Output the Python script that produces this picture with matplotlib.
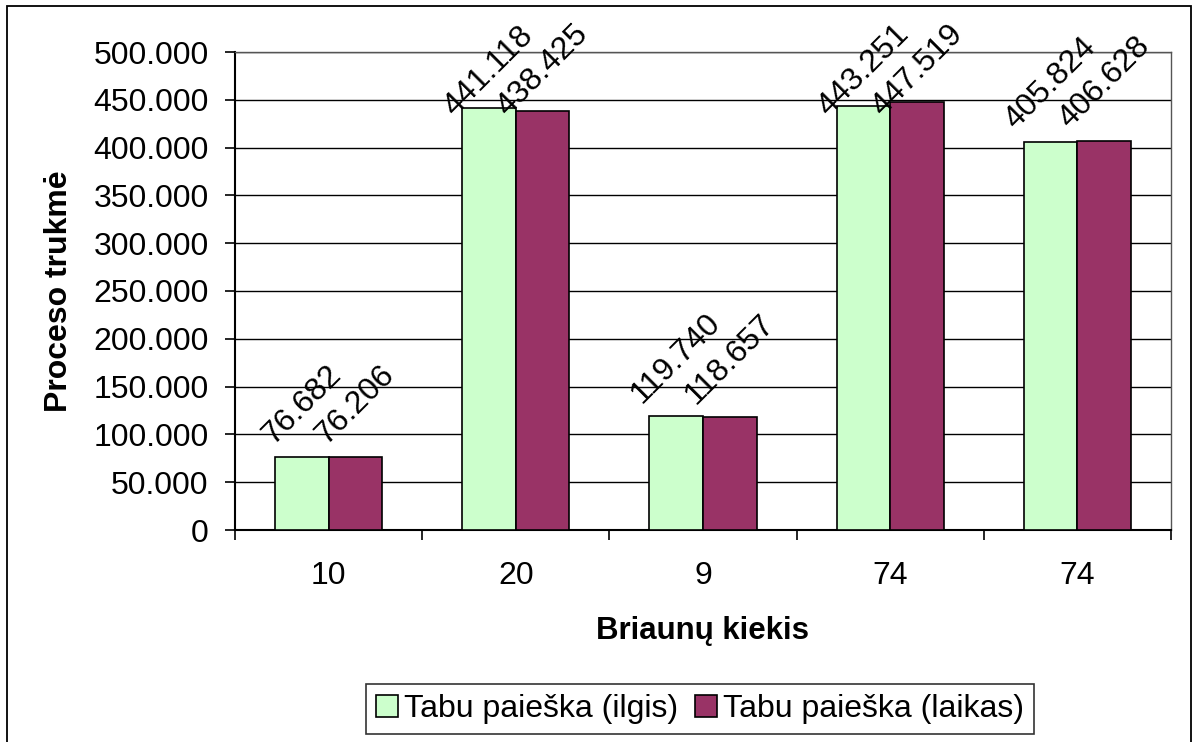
import matplotlib
matplotlib.use("Agg")
import matplotlib.pyplot as plt
import numpy as np
from matplotlib.patches import Rectangle

plt.rcParams['font.family'] = ['Liberation Sans', 'DejaVu Sans']

categories = ['10', '20', '9', '74', '74']
ilgis = [76.682, 441.118, 119.740, 443.251, 405.824]
laikas = [76.206, 438.425, 118.657, 447.519, 406.628]
series_names = ['Tabu paieška (ilgis)', 'Tabu paieška (laikas)']
yticks = [0, 50, 100, 150, 200, 250, 300, 350, 400, 450, 500]
ytick_labels = ['0', '50.000', '100.000', '150.000', '200.000', '250.000',
                '300.000', '350.000', '400.000', '450.000', '500.000']

FS = 23
LABEL_CAP = 420  # data labels are pushed down so they stay inside the chart
W, H = 1194, 742
fig = plt.figure(figsize=(W / 100, H / 100), dpi=100)
fig.patch.set_facecolor('white')

# outer chart frame
fig.add_artist(Rectangle((7 / W, -0.05), (1191 - 7) / W, 1.05 - 6 / H,
                         transform=fig.transFigure, fill=False,
                         edgecolor='black', linewidth=1.3))

left, right, top, bottom = 235, 1171, 52, 530
ax = fig.add_axes([left / W, 1 - bottom / H, (right - left) / W, (bottom - top) / H])

x = np.arange(len(categories))
bw = 0.286
b1 = ax.bar(x - bw / 2, ilgis, bw, color='#CCFFCC', edgecolor='black', linewidth=1.2,
            label=series_names[0], zorder=3)
b2 = ax.bar(x + bw / 2, laikas, bw, color='#993366', edgecolor='black', linewidth=1.2,
            label=series_names[1], zorder=3)

for bars, vals in ((b1, ilgis), (b2, laikas)):
    for rect, v in zip(bars, vals):
        ax.annotate(f'{v:.3f}', (rect.get_x() + rect.get_width() / 2, min(v, LABEL_CAP)),
                    xytext=(0, 5), textcoords='offset points',
                    ha='center', va='bottom', rotation=45, fontsize=FS, zorder=4,
                    annotation_clip=False)

ax.set_ylim(0, 500)
ax.set_xlim(-0.5, len(categories) - 0.5)
ax.set_yticks(yticks)
ax.set_yticklabels(ytick_labels, fontsize=FS)
ax.yaxis.grid(True, color='black', linewidth=1.0, zorder=0)
ax.set_axisbelow(True)

ax.set_xticks(x)
ax.set_xticklabels(categories, fontsize=FS)
ax.set_xticks(np.arange(len(categories) + 1) - 0.5, minor=True)
ax.tick_params(axis='x', which='major', length=0, pad=22)
ax.tick_params(axis='x', which='minor', length=7, width=1.2, direction='out')
ax.tick_params(axis='y', length=7, width=1.2, direction='out', pad=12)

for s in ('left', 'bottom'):
    ax.spines[s].set_linewidth(1.5)
    ax.spines[s].set_color('black')
for s in ('right', 'top'):
    ax.spines[s].set_linewidth(1.0)
    ax.spines[s].set_color('#555555')

ax.set_xlabel('Briaunų kiekis', fontsize=22.5, fontweight='bold', labelpad=18)
ax.set_ylabel('Proceso trukmė', fontsize=FS, fontweight='bold', labelpad=14)

leg = fig.legend(handles=[b1, b2], labels=series_names, loc='center',
                 bbox_to_anchor=(700 / W, 1 - 709 / H), ncol=2, fontsize=FS,
                 frameon=True, fancybox=False, edgecolor='black',
                 handlelength=0.7, handleheight=0.7, handletextpad=0.2,
                 columnspacing=0.5, borderpad=0.3, borderaxespad=0)
leg.get_frame().set_linewidth(1.2)

fig.savefig('out.png', dpi=100, facecolor='white')
